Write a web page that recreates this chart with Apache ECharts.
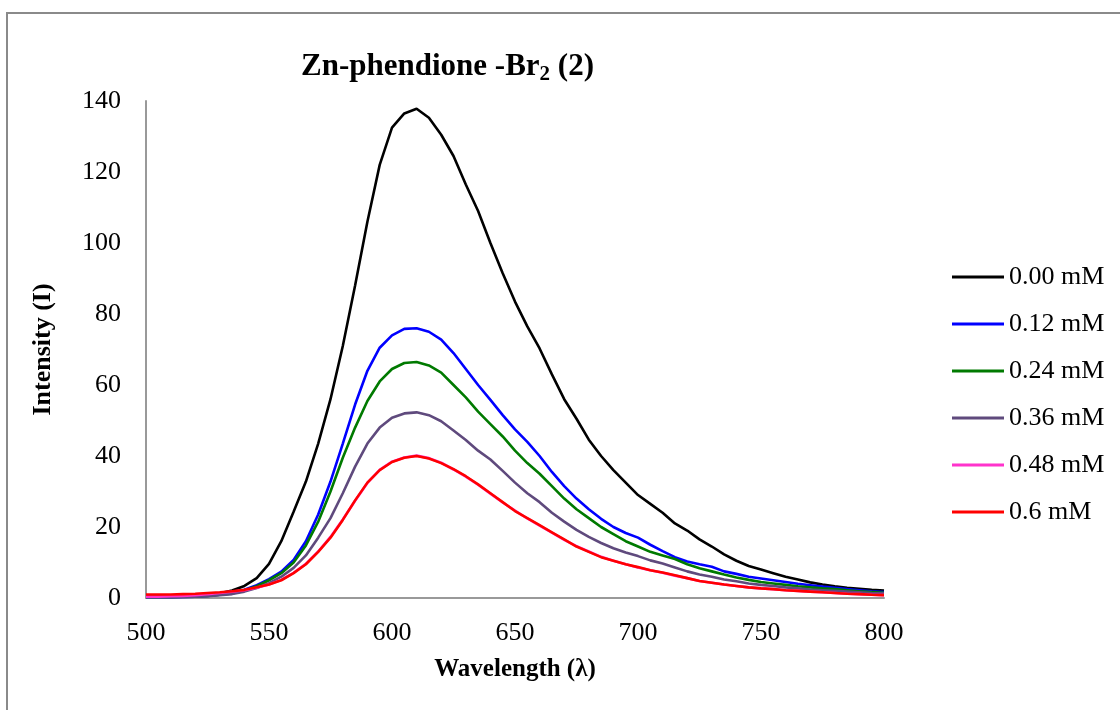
<!DOCTYPE html>
<html>
<head>
<meta charset="utf-8">
<script src="https://cdn.jsdelivr.net/npm/echarts@6/dist/echarts.min.js"></script>
<style>
  html, body { margin: 0; padding: 0; background: #ffffff; }
  #chart { width: 1120px; height: 710px; }
</style>
</head>
<body>
<div id="chart"></div>
<script>
// Emission wavelengths (nm), 5 nm steps
const wavelength = [500,505,510,515,520,525,530,535,540,545,550,555,560,565,570,575,580,585,590,595,
  600,605,610,615,620,625,630,635,640,645,650,655,660,665,670,675,680,685,690,695,
  700,705,710,715,720,725,730,735,740,745,750,755,760,765,770,775,780,785,790,795,800];

// Fluorescence intensity for each Br2 concentration
const c000 = [0.5,0.5,0.6,0.6,0.7,0.9,1.3,2.1,3.4,5.6,9.6,16,24.3,32.8,43.5,56,71,88,106,122,
  132.5,136.5,137.8,135.3,130.5,124.5,116.5,109,100,91.5,83.5,76.5,70.3,63,56,50.5,44.6,40,36,32.5,
  29,26.5,24,21,19,16.5,14.5,12.3,10.5,9,8,7,6,5.2,4.4,3.8,3.3,2.9,2.6,2.3,2.1];
const c012 = [0.2,0.2,0.2,0.3,0.4,0.6,0.9,1.4,2.3,3.6,5.3,7.4,10.7,16,23.5,32.8,43.5,54.5,64,70.5,
  74,75.8,76,75,72.8,69,64.5,60,55.8,51.5,47.5,44,40,35.5,31.5,28,25,22.3,20,18.3,
  17,15,13.2,11.5,10.3,9.5,8.8,7.5,6.8,6,5.5,5,4.5,4,3.6,3.2,2.9,2.5,2.2,1.9,1.7];
const c024 = [0.3,0.3,0.3,0.4,0.5,0.6,0.9,1.3,2.1,3.3,5,7,10,14.8,21.5,30,39.5,48,55.5,61,
  64.5,66.2,66.5,65.5,63.5,60,56.5,52.5,49,45.5,41.5,38,35,31.5,28,25,22.5,20,18,16,
  14.5,13,12,11,9.5,8.4,7.5,6.6,5.8,5.1,4.5,4.1,3.7,3.3,3,2.7,2.5,2.2,1.9,1.7,1.5];
const c036 = [0.2,0.2,0.2,0.3,0.4,0.5,0.8,1.1,1.8,2.8,4.2,6,8.5,12,17,22.5,29.5,37,43.5,48,
  50.8,52,52.3,51.5,49.8,47.2,44.5,41.5,39,35.8,32.5,29.5,27,24,21.5,19.2,17.2,15.5,14,12.8,
  11.8,10.6,9.7,8.6,7.5,6.6,6,5.2,4.7,4.1,3.7,3.4,3,2.7,2.4,2.2,2,1.8,1.6,1.4,1.3];
const c048 = [0.4,0.4,0.5,0.6,0.8,1.1,1.4,1.8,2.2,2.9,3.8,5.1,7.1,9.6,13.1,17.2,22.1,27.4,32.4,36.1,
  38.4,39.6,40.1,39.4,38.1,36.2,34.2,31.9,29.4,26.9,24.6,22.4,20.4,18.4,16.4,14.6,13.1,11.6,10.5,9.5,
  8.6,7.8,7.1,6.3,5.6,4.8,4.3,3.8,3.4,3,2.7,2.5,2.2,2,1.8,1.6,1.4,1.2,1.1,0.9,0.8];
const c060 = [1.0,1.0,1.0,1.1,1.2,1.4,1.6,1.9,2.3,3,3.8,5,7,9.5,13,17,22,27.5,32.5,36,
  38.3,39.5,40,39.3,38,36.3,34.3,32,29.5,27,24.5,22.5,20.5,18.5,16.5,14.5,13,11.5,10.5,9.5,
  8.7,7.8,7.2,6.4,5.6,4.8,4.3,3.8,3.4,3,2.7,2.5,2.2,2,1.8,1.6,1.4,1.2,1.1,0.9,0.8];

const seriesNames = ['0.00 mM', '0.12 mM', '0.24 mM', '0.36 mM', '0.48 mM', '0.6 mM'];
const seriesValues = [c000, c012, c024, c036, c048, c060];
const seriesColors = ['#000000', '#0000ff', '#007a00', '#5f4a7d', '#ff33cc', '#ff0000'];

const xTicks = { min: 500, max: 800, interval: 50 };
const yTicks = { min: 0, max: 140, interval: 20 };

const serif = '"Liberation Serif", "Times New Roman", serif';

const chart = echarts.init(document.getElementById('chart'), null, { renderer: 'canvas' });

const series = seriesNames.map((name, i) => ({
  name: name,
  type: 'line',
  showSymbol: false,
  symbol: 'none',
  smooth: false,
  data: wavelength.map((w, k) => [w, seriesValues[i][k]]),
  lineStyle: { color: seriesColors[i], width: 2.6 },
  itemStyle: { color: seriesColors[i] },
  z: 2 + i
}));

chart.setOption({
  animation: false,
  backgroundColor: '#ffffff',
  graphic: [{
    type: 'rect',
    shape: { x: 7, y: 13, width: 1300, height: 900 },
    style: { fill: 'none', stroke: '#8a8a8a', lineWidth: 2 },
    silent: true
  }],
  title: {
    text: '{a|Zn-phendione -Br}{s|2}{a| (2)}',
    left: 296,
    top: 44,
    textStyle: {
      rich: {
        a: { fontFamily: serif, fontWeight: 'bold', fontSize: 31, color: '#000', lineHeight: 36 },
        s: { fontFamily: serif, fontWeight: 'bold', fontSize: 21, color: '#000', lineHeight: 36, padding: [16, 0, 0, 0] }
      }
    }
  },
  legend: {
    orient: 'vertical',
    left: 947,
    top: 259,
    icon: 'rect',
    itemWidth: 52,
    itemHeight: 3,
    itemGap: 21,
    data: seriesNames,
    textStyle: { fontFamily: serif, fontSize: 26, color: '#000', lineHeight: 26 }
  },
  grid: { left: 146, right: 236, top: 101, bottom: 112, containLabel: false },
  xAxis: {
    type: 'value',
    min: xTicks.min,
    max: xTicks.max,
    interval: xTicks.interval,
    name: 'Wavelength (λ)',
    nameLocation: 'middle',
    nameGap: 59,
    nameTextStyle: { fontFamily: serif, fontWeight: 'bold', fontSize: 25, color: '#000' },
    axisLine: { lineStyle: { color: '#999999', width: 2 } },
    axisTick: { show: false },
    splitLine: { show: false },
    axisLabel: { fontFamily: serif, fontSize: 26, color: '#000', margin: 22 }
  },
  yAxis: {
    type: 'value',
    min: yTicks.min,
    max: yTicks.max,
    interval: yTicks.interval,
    name: 'Intensity (I)',
    nameLocation: 'middle',
    nameGap: 90,
    nameTextStyle: { fontFamily: serif, fontWeight: 'bold', fontSize: 26, color: '#000' },
    axisLine: { show: true, lineStyle: { color: '#999999', width: 2 } },
    axisTick: { show: false },
    splitLine: { show: false },
    axisLabel: { fontFamily: serif, fontSize: 26, color: '#000', margin: 25 }
  },
  series: series
});
</script>
</body>
</html>
